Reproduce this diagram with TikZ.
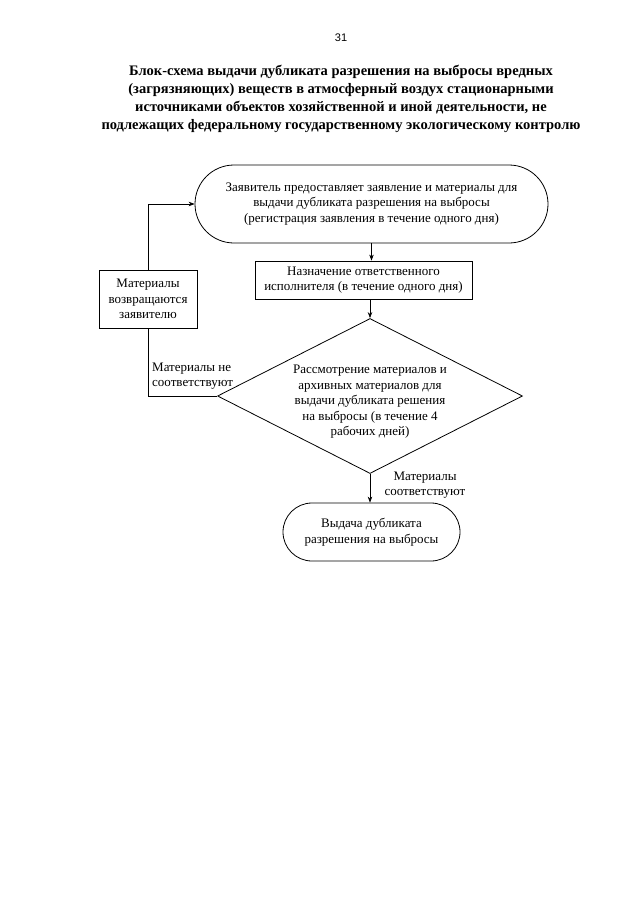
\documentclass[tikz,border=0pt]{standalone}
\usepackage{fontspec}
\setmainfont{Liberation Serif}
\newfontfamily\pagefont{Liberation Sans}
\usetikzlibrary{shapes.geometric,arrows.meta}
\begin{document}
\begin{tikzpicture}[x=1pt,y=-1pt,
  txt/.style={font=\fontsize{13}{15.5}\selectfont},
  conn/.style={line width=0.7pt},
  arr/.style={line width=0.7pt,-{Stealth[length=6pt,width=4.5pt]}},
  term/.style={txt,draw,line width=0.8pt,align=center,inner sep=0pt},
  proc/.style={txt,draw,line width=0.8pt,align=center,inner sep=0pt},
  dia/.style={draw,line width=0.8pt,diamond,inner sep=0pt,aspect=1.97}]
\useasboundingbox (0,0) rectangle (640,905);
\fill[white] (0,0) rectangle (640,905);

\node[font=\pagefont\fontsize{11}{13}\selectfont] (pg) at (341,38) {31};
\node[font=\bfseries\fontsize{14.5}{18}\selectfont,align=center] (title) at (341,99)
  {Блок-схема выдачи дубликата разрешения на выбросы вредных\\
   (загрязняющих) веществ в атмосферный воздух стационарными\\
   источниками объектов хозяйственной и иной деятельности, не\\
   подлежащих федеральному государственному экологическому контролю};

\node[term,minimum width=353pt,minimum height=78pt,rounded corners=39pt] (apply) at (371.5,204)
  {Заявитель предоставляет заявление и материалы для\\
   выдачи дубликата разрешения на выбросы\\
   (регистрация заявления в течение одного дня)};
\node[proc,minimum width=217pt,minimum height=38pt] (assign) at (363.5,280)
  {Назначение ответственного\\ исполнителя (в течение одного дня)};
\node[dia,minimum width=305pt,minimum height=155pt] (review) at (370,396) {};
\node[txt,align=center,inner sep=0pt] (reviewtext) at (370,402)
  {Рассмотрение материалов и\\ архивных материалов для\\ выдачи дубликата решения\\ на выбросы (в течение 4\\ рабочих дней)};
\node[term,minimum width=177pt,minimum height=58pt,rounded corners=29pt] (issue) at (371.5,532)
  {Выдача дубликата\\ разрешения на выбросы};
\node[proc,minimum width=98pt,minimum height=58pt] (ret) at (148,299)
  {Материалы\\ возвращаются\\ заявителю};

\node[txt,align=left,anchor=west,inner sep=0pt] (nolbl) at (152,376) {Материалы не\\ соответствуют};
\node[txt,align=center,inner sep=0pt] (yeslbl) at (425,485) {Материалы\\ соответствуют};

\draw[arr] (apply.south) -- (apply.south |- assign.north);
\draw[arr] (review.north |- assign.south) -- (review.north);
\draw[arr] (review.south) -- (review.south |- issue.north);
\draw[conn] (review.west) -| (ret.south);
\draw[arr] (ret.north) |- (apply.west);
\end{tikzpicture}
\end{document}
